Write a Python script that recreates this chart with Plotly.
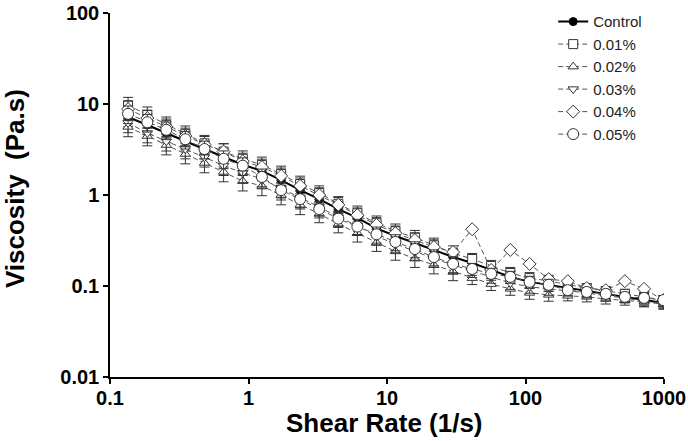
import plotly.graph_objects as go

# Shear rate (1/s)
shear_rate = [0.135, 0.186, 0.255, 0.350, 0.481, 0.661, 0.909, 1.25, 1.72, 2.36,
              3.24, 4.45, 6.11, 8.40, 11.5, 15.9, 21.8, 30.0, 41.2, 56.5,
              77.7, 107, 147, 202, 277, 380, 522, 718, 990]

# Viscosity (Pa.s)
control = [7.2, 5.9, 4.8, 3.9, 3.2, 2.6, 2.15, 1.84, 1.46, 1.13, 0.90, 0.70, 0.56, 0.43,
           0.354, 0.297, 0.249, 0.208, 0.179, 0.150, 0.126, 0.111, 0.103, 0.095, 0.088,
           0.082, 0.076, 0.070, 0.065]
c001 = [9.7, 7.6, 5.9, 4.7, 3.7, 3.0, 2.5, 2.14, 1.70, 1.32, 1.05, 0.80, 0.63, 0.49,
        0.40, 0.34, 0.28, 0.23, 0.198, 0.166, 0.139, 0.122, 0.114, 0.103, 0.095,
        0.088, 0.082, 0.076, 0.070]
c002 = [5.6, 4.45, 3.54, 2.82, 2.25, 1.79, 1.42, 1.26, 1.0, 0.78, 0.62, 0.48, 0.38, 0.30,
        0.24, 0.20, 0.17, 0.143, 0.122, 0.105, 0.093, 0.084, 0.080, 0.078, 0.076,
        0.072, 0.070, 0.067, 0.063]
c003 = [6.2, 4.8, 3.9, 3.2, 2.6, 2.1, 1.75, 1.5, 1.19, 0.93, 0.74, 0.57, 0.46, 0.35,
        0.29, 0.24, 0.20, 0.17, 0.146, 0.126, 0.108, 0.098, 0.093, 0.088, 0.084,
        0.078, 0.074, 0.068, 0.065]
c004 = [8.8, 7.0, 5.6, 4.45, 3.6, 3.0, 2.36, 2.03, 1.62, 1.26, 1.0, 0.78, 0.60, 0.47,
        0.38, 0.32, 0.268, 0.236, 0.42, 0.150, 0.249, 0.175, 0.119, 0.113, 0.095,
        0.090, 0.113, 0.093, 0.070]
c005 = [7.8, 6.3, 5.2, 4.1, 3.2, 2.5, 2.1, 1.58, 1.13, 0.90, 0.70, 0.55, 0.45, 0.37,
        0.305, 0.255, 0.208, 0.175, 0.154, 0.136, 0.126, 0.111, 0.103, 0.090, 0.086,
        0.082, 0.076, 0.074, 0.070]

# Relative standard deviations (estimated)
rel_sd = [0.22, 0.22, 0.22, 0.22, 0.22, 0.22, 0.22, 0.22, 0.22, 0.22,
          0.20, 0.20, 0.20, 0.20, 0.20, 0.20, 0.20, 0.20, 0.15, 0.15,
          0.15, 0.15, 0.15, 0.12, 0.12, 0.12, 0.12, 0.12, 0.12]
rel_sd_004 = [0.22, 0.22, 0.22, 0.22, 0.22, 0.22, 0.22, 0.22, 0.22, 0.22,
              0.20, 0.20, 0.20, 0.20, 0.20, 0.20, 0.20, 0.03, 0.03, 0.03,
              0.03, 0.03, 0.03, 0.03, 0.03, 0.03, 0.03, 0.03, 0.03]

labels = ["Control", "0.01%", "0.02%", "0.03%", "0.04%", "0.05%"]
series = [control, c001, c002, c003, c004, c005]
errs = [rel_sd, rel_sd, rel_sd, rel_sd, rel_sd_004, rel_sd]
symbols = ["circle", "square", "triangle-up", "triangle-down", "diamond", "circle"]
sizes = [8, 9, 9, 9, 10, 11]

x_ticks = [0.1, 1, 10, 100, 1000]
x_tick_text = ["0.1", "1", "10", "100", "1000"]
y_ticks = [0.01, 0.1, 1, 10, 100]
y_tick_text = ["0.01", "0.1", "1", "10", "100"]

fig = go.Figure()
for i, (name, ys, rs) in enumerate(zip(labels, series, errs)):
    sd = [y * r for y, r in zip(ys, rs)]
    if i == 0:
        line = dict(color="black", width=2)
        marker = dict(symbol="circle", size=sizes[i], color="black",
                      line=dict(color="black", width=1))
    else:
        line = dict(color="#555555", width=1, dash="5px,3px")
        marker = dict(symbol=symbols[i], size=sizes[i], color="white",
                      line=dict(color="#333333", width=1))
    fig.add_trace(go.Scatter(
        x=shear_rate, y=ys, name=name, mode="lines+markers",
        line=line, marker=marker,
        error_y=dict(type="data", array=sd, visible=True, color="#333333",
                     thickness=1, width=5),
    ))

FAMILY = "Liberation Sans, Arial, sans-serif"
axis_font = dict(family=FAMILY, size=20, color="black", weight="bold")
title_font = dict(family=FAMILY, size=26, color="black", weight="bold")

fig.update_layout(
    width=688, height=441,
    margin=dict(l=110, r=24, t=13, b=64, autoexpand=False),
    paper_bgcolor="white", plot_bgcolor="white",
    showlegend=True,
    legend=dict(x=0.80, y=1.021, xanchor="left", yanchor="top",
                font=dict(family=FAMILY, size=15, color="#222222"),
                bgcolor="rgba(0,0,0,0)", tracegroupgap=0),
    xaxis=dict(type="log", range=[-1, 3], automargin=False, ticklabeloverflow="allow",
               tickvals=x_ticks, ticktext=x_tick_text, ticklabelstandoff=-3,
               ticks="outside", ticklen=5, tickwidth=1.5, tickcolor="black",
               showline=True, linecolor="black", linewidth=1.5,
               showgrid=False, zeroline=False, tickfont=axis_font),
    yaxis=dict(type="log", range=[-2, 2], automargin=False, ticklabeloverflow="allow",
               tickvals=y_ticks, ticktext=y_tick_text,
               ticks="outside", ticklen=5, tickwidth=1.5, tickcolor="black",
               showline=True, linecolor="black", linewidth=1.5,
               showgrid=False, zeroline=False, tickfont=axis_font),
    annotations=[
        dict(text="Shear Rate (1/s)", xref="paper", yref="paper", x=0.4955, y=-0.1264,
             xanchor="center", yanchor="middle", showarrow=False, font=title_font),
        dict(text="Viscosity\u00a0 (Pa.s)", xref="paper", yref="paper", x=-0.1715, y=0.519,
             xanchor="center", yanchor="middle", showarrow=False, textangle=-90,
             font=title_font),
    ],
)

fig.write_html("out.html", config={"displayModeBar": False},
               post_script="document.body.style.margin='0px';")
